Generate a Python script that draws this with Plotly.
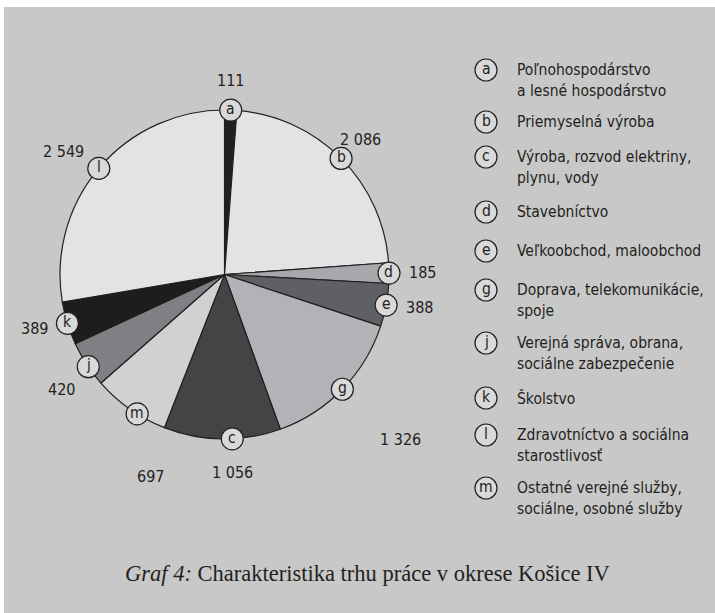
import math
import plotly.graph_objects as go

# ---------------- data ----------------
slice_letters = ["a", "b", "d", "e", "g", "c", "m", "j", "k", "l"]
slice_values = [111, 2086, 185, 388, 1326, 1056, 697, 420, 389, 2549]
slice_value_labels = ["111", "2 086", "185", "388", "1 326", "1 056", "697", "420", "389", "2 549"]
slice_colors = ["#231f20", "#e2e3e5", "#a6a8ab", "#5f6063", "#b1b3b6",
                "#434446", "#d0d1d3", "#7e8083", "#1f1c1d", "#e2e3e5"]

legend_letters = ["a", "b", "c", "d", "e", "g", "j", "k", "l", "m"]
legend_texts = [
    "Poľnohospodárstvo<br>a lesné hospodárstvo",
    "Priemyselná výroba",
    "Výroba, rozvod elektriny,<br>plynu, vody",
    "Stavebníctvo",
    "Veľkoobchod, maloobchod",
    "Doprava, telekomunikácie,<br>spoje",
    "Verejná správa, obrana,<br>sociálne zabezpečenie",
    "Školstvo",
    "Zdravotníctvo a sociálna<br>starostlivosť",
    "Ostatné verejné služby,<br>sociálne, osobné služby",
]
caption = "<i>Graf 4:</i> Charakteristika trhu práce v okrese Košice IV"

# ---------------- layout parameters ----------------
W, H = 715, 613
CX, CY, R = 224.5, 274.5, 164.5
# per-slice tweaks for the circled letters (degrees) and value labels (degrees, px from centre)
circle_angle_shift = [0, 0, 0, 0, 0, -3.5, -3, -1, 0, 0]
label_angle_shift = [-0.3, 0.1, -0.2, -1.0, -1.0, -3.1, -14.8, -2.1, 1.5, -2.9]
label_dist = [194.6, 192, 198.5, 198, 241, 198.6, 215, 200, 197, 202.7]
legend_rows_y = [70, 122, 157, 212, 251, 290, 343, 398, 435, 488]
legend_circle_x = 486
legend_text_x = 515
legend_line_gap = 20.5

SANS = "DejaVu Sans Condensed, Liberation Sans Narrow, sans-serif"
SERIF = "Liberation Serif, DejaVu Serif, serif"
INK = "#231f20"


def px(x):
    return x / W


def py(y):
    return 1 - y / H


fig = go.Figure()
fig.add_trace(go.Pie(
    values=slice_values,
    labels=slice_letters,
    sort=False,
    direction="clockwise",
    rotation=0,
    marker=dict(colors=slice_colors, line=dict(color=INK, width=1.2)),
    textinfo="none",
    hoverinfo="label+value",
    showlegend=False,
    domain=dict(x=[px(CX - R), px(CX + R)], y=[py(CY + R), py(CY - R)]),
))

shapes = [dict(type="rect", xref="paper", yref="paper", x0=px(4), x1=1, y0=0, y1=py(7),
               fillcolor="#c8c8c8", line=dict(width=0), layer="below")]
annotations = []


def circled(x, y, letter):
    shapes.append(dict(type="circle", xref="paper", yref="paper",
                       xsizemode="pixel", ysizemode="pixel",
                       xanchor=px(x), yanchor=py(y), x0=-11, x1=11, y0=-11, y1=11,
                       fillcolor="#d9d9da", line=dict(color=INK, width=1.2), layer="above"))
    annotations.append(dict(x=px(x), y=py(y) + 0.002, xref="paper", yref="paper", text=letter,
                            showarrow=False, xanchor="center", yanchor="middle",
                            font=dict(family=SANS, size=15.5, color=INK)))


total = sum(slice_values)
cum = 0
for i, v in enumerate(slice_values):
    mid = (cum + v / 2) / total * 360
    cum += v
    a = math.radians(mid + circle_angle_shift[i])
    circled(CX + R * math.sin(a), CY - R * math.cos(a), slice_letters[i])
    b = math.radians(mid + label_angle_shift[i])
    d = label_dist[i]
    annotations.append(dict(x=px(CX + d * math.sin(b)), y=py(CY - d * math.cos(b)),
                            xref="paper", yref="paper", text=slice_value_labels[i],
                            showarrow=False, xanchor="center", yanchor="middle",
                            font=dict(family=SANS, size=16, color=INK)))

for letter, text, y in zip(legend_letters, legend_texts, legend_rows_y):
    circled(legend_circle_x, y, letter)
    for j, line in enumerate(text.split("<br>")):
        annotations.append(dict(x=px(legend_text_x), y=py(y + j * legend_line_gap),
                                xref="paper", yref="paper", text=line,
                                showarrow=False, xanchor="left", yanchor="middle",
                                font=dict(family=SANS, size=15.5, color=INK)))

annotations.append(dict(x=px(367), y=py(573), xref="paper", yref="paper", text=caption,
                        showarrow=False, xanchor="center", yanchor="middle",
                        font=dict(family=SERIF, size=22.5, color=INK)))

fig.update_layout(
    width=W, height=H,
    margin=dict(l=0, r=0, t=0, b=0),
    paper_bgcolor="white",
    plot_bgcolor="rgba(0,0,0,0)",
    shapes=shapes,
    annotations=annotations,
)

fig.write_html("out.html",
               config={"displayModeBar": False},
               post_script="document.body.style.margin='0';document.body.style.overflow='hidden';")
